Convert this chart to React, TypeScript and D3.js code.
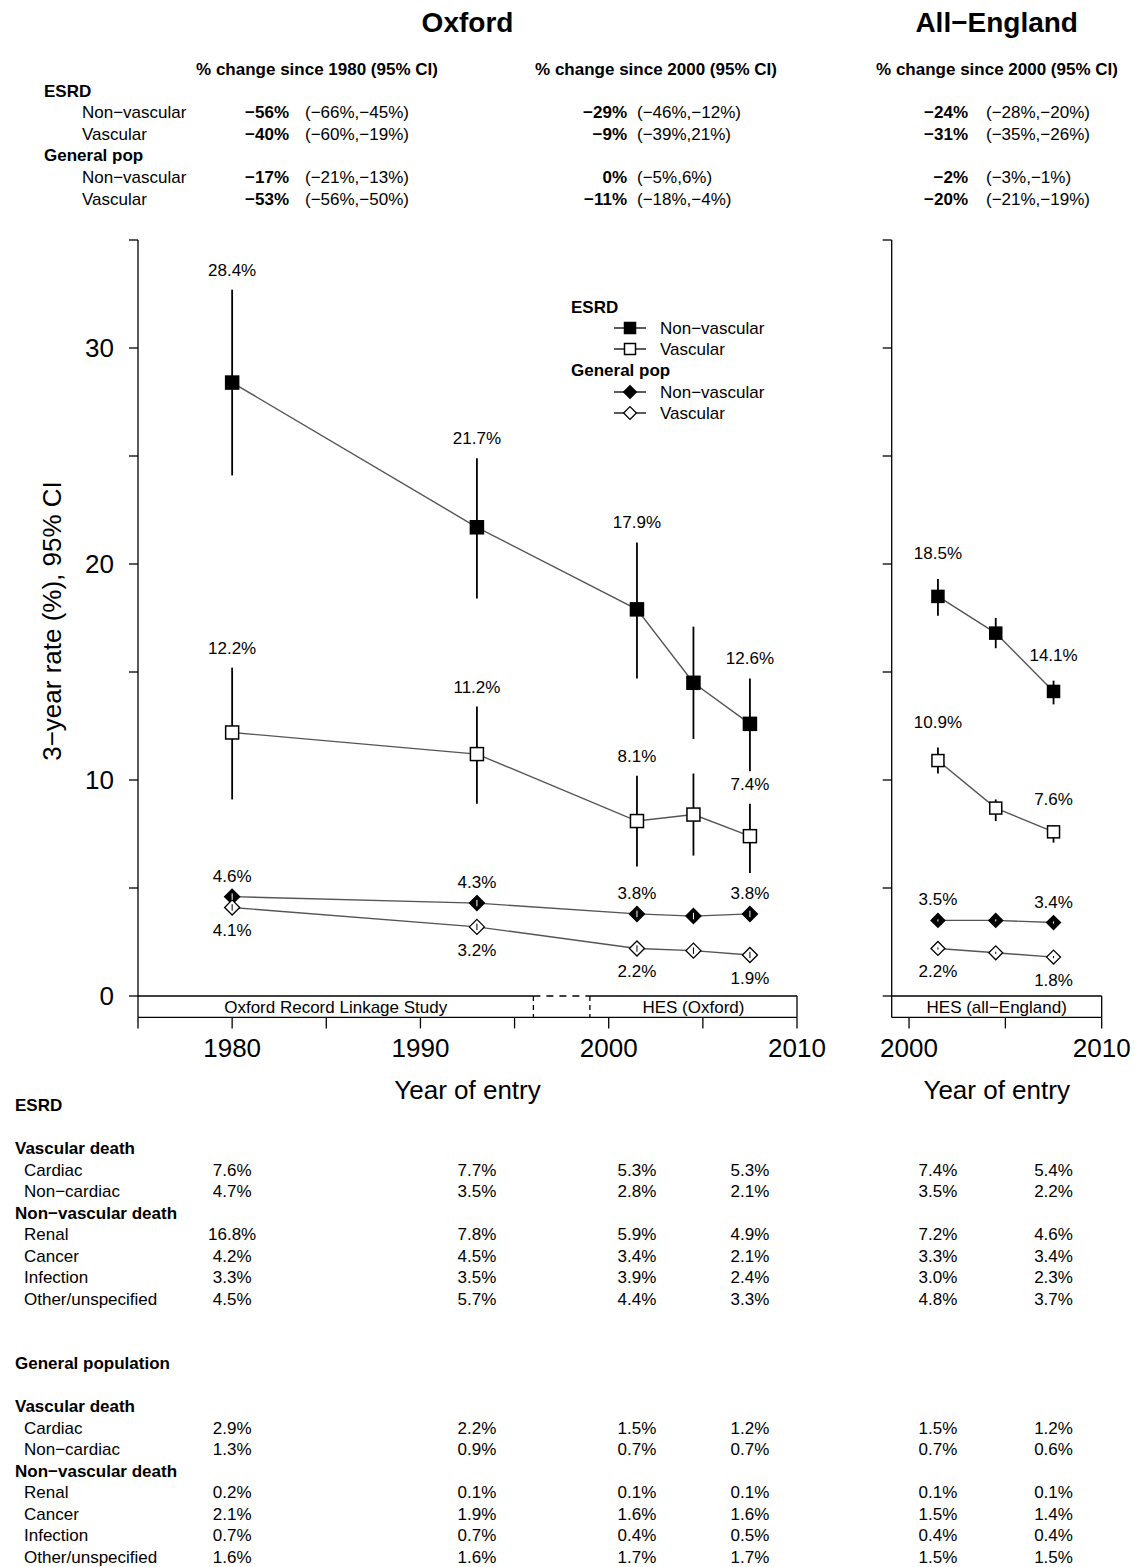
import React from "react";
import * as d3 from "d3";

const FONT = "'Liberation Sans', Arial, Helvetica, sans-serif";

// ---------- data ----------
const oxfordYears = [1980, 1993, 2001.5, 2004.5, 2007.5];
const englandYears = [2001.5, 2004.5, 2007.5];

const oxEsrdNonVasc = [28.4, 21.7, 17.9, 14.5, 12.6];
const oxEsrdNonVascLo = [24.1, 18.4, 14.7, 11.9, 10.4];
const oxEsrdNonVascHi = [32.7, 24.9, 21.0, 17.1, 14.7];
const oxEsrdVasc = [12.2, 11.2, 8.1, 8.4, 7.4];
const oxEsrdVascLo = [9.1, 8.9, 6.0, 6.5, 5.7];
const oxEsrdVascHi = [15.2, 13.4, 10.2, 10.3, 8.9];
const oxGpNonVasc = [4.6, 4.3, 3.8, 3.7, 3.8];
const oxGpNonVascLo = [4.45, 4.15, 3.65, 3.55, 3.65];
const oxGpNonVascHi = [4.75, 4.45, 3.95, 3.85, 3.95];
const oxGpVasc = [4.1, 3.2, 2.2, 2.1, 1.9];
const oxGpVascLo = [3.95, 3.05, 2.05, 1.95, 1.75];
const oxGpVascHi = [4.25, 3.35, 2.35, 2.25, 2.05];

const enEsrdNonVasc = [18.5, 16.8, 14.1];
const enEsrdNonVascLo = [17.6, 16.1, 13.5];
const enEsrdNonVascHi = [19.3, 17.5, 14.6];
const enEsrdVasc = [10.9, 8.7, 7.6];
const enEsrdVascLo = [10.3, 8.1, 7.1];
const enEsrdVascHi = [11.5, 9.1, 7.9];
const enGpNonVasc = [3.5, 3.5, 3.4];
const enGpNonVascLo = [3.45, 3.45, 3.35];
const enGpNonVascHi = [3.55, 3.55, 3.45];
const enGpVasc = [2.2, 2.0, 1.8];
const enGpVascLo = [2.15, 1.95, 1.75];
const enGpVascHi = [2.25, 2.05, 1.85];

const oxLabelIdx = [0, 1, 2, 4];
const enLabelIdx = [0, 2];

const yTicks = [0, 5, 10, 15, 20, 25, 30, 35];
const yTickLabels = [0, 10, 20, 30];
const oxXTicks = [1975, 1980, 1985, 1990, 1995, 2000, 2005, 2010];
const oxXTickLabels = [1980, 1990, 2000, 2010];
const enXTicks = [2000, 2005, 2010];
const enXTickLabels = [2000, 2010];

// change table
const changeGroups = ["ESRD", "General pop"];
const changeRows = ["Non\u2212vascular", "Vascular"];
const chg1980 = ["\u221256%", "\u221240%", "\u221217%", "\u221253%"];
const chg1980CI = ["(\u221266%,\u221245%)", "(\u221260%,\u221219%)", "(\u221221%,\u221213%)", "(\u221256%,\u221250%)"];
const chgOx2000 = ["\u221229%", "\u22129%", "0%", "\u221211%"];
const chgOx2000CI = ["(\u221246%,\u221212%)", "(\u221239%,21%)", "(\u22125%,6%)", "(\u221218%,\u22124%)"];
const chgEn2000 = ["\u221224%", "\u221231%", "\u22122%", "\u221220%"];
const chgEn2000CI = ["(\u221228%,\u221220%)", "(\u221235%,\u221226%)", "(\u22123%,\u22121%)", "(\u221221%,\u221219%)"];

// cause-of-death table: columns = Oxford 1980, 1993, 2001.5, 2007.5, England 2001.5, 2007.5
const causeVascular = ["Cardiac", "Non\u2212cardiac"];
const causeNonVascular = ["Renal", "Cancer", "Infection", "Other/unspecified"];
const esrdCardiac = [7.6, 7.7, 5.3, 5.3, 7.4, 5.4];
const esrdNonCardiac = [4.7, 3.5, 2.8, 2.1, 3.5, 2.2];
const esrdRenal = [16.8, 7.8, 5.9, 4.9, 7.2, 4.6];
const esrdCancer = [4.2, 4.5, 3.4, 2.1, 3.3, 3.4];
const esrdInfection = [3.3, 3.5, 3.9, 2.4, 3.0, 2.3];
const esrdOther = [4.5, 5.7, 4.4, 3.3, 4.8, 3.7];
const gpCardiac = [2.9, 2.2, 1.5, 1.2, 1.5, 1.2];
const gpNonCardiac = [1.3, 0.9, 0.7, 0.7, 0.7, 0.6];
const gpRenal = [0.2, 0.1, 0.1, 0.1, 0.1, 0.1];
const gpCancer = [2.1, 1.9, 1.6, 1.6, 1.5, 1.4];
const gpInfection = [0.7, 0.7, 0.4, 0.5, 0.4, 0.4];
const gpOther = [1.6, 1.6, 1.7, 1.7, 1.5, 1.5];
const tableOxYears = [1980, 1993, 2001.5, 2007.5];
const tableEnYears = [2001.5, 2007.5];

// ---------- scales ----------
const xL = d3.scaleLinear().domain([1975, 2010]).range([138, 797]);
const xR = d3.scaleLinear().domain([1999.1, 2010]).range([891.7, 1101.7]);
const y = d3.scaleLinear().domain([0, 35]).range([996, 240]);
const boxBottom = y(-0.99);

type MType = "sqFill" | "sqOpen" | "diFill" | "diOpen";

function Marker({ t, cx, cy, s }: { t: MType; cx: number; cy: number; s: number }) {
  if (t === "sqFill" || t === "sqOpen") {
    return (
      <rect x={cx - s / 2} y={cy - s / 2} width={s} height={s}
        fill={t === "sqFill" ? "#000" : "#fff"} stroke="#000" strokeWidth={1.5} />
    );
  }
  const h = s * 0.58;
  const w = s * 0.58;
  return (
    <path d={`M${cx},${cy - h}L${cx + w},${cy}L${cx},${cy + h}L${cx - w},${cy}Z`}
      fill={t === "diFill" ? "#000" : "#fff"} stroke="#000" strokeWidth={1.3} />
  );
}

type Series = { v: number[]; lo: number[]; hi: number[]; t: MType; lab: "ci" | "above" | "below" };

function Panel({ xs, years, series, labelIdx, size, ciOff }: {
  xs: d3.ScaleLinear<number, number>; years: number[]; series: Series[]; labelIdx: number[]; size: number; ciOff: number;
}) {
  const line = d3.line<number>().x((_, i) => xs(years[i])).y((d) => y(d));
  return (
    <g>
      {series.map((s, k) => (
        <path key={"l" + k} d={line(s.v) || ""} fill="none" stroke="#555" strokeWidth={1.4} />
      ))}
      {series.map((s, k) =>
        s.t.startsWith("sq") ? s.v.map((_, i) => (
          <line key={"c" + k + i} x1={xs(years[i])} x2={xs(years[i])} y1={y(s.lo[i])} y2={y(s.hi[i])}
            stroke="#000" strokeWidth={1.8} />
        )) : null
      )}
      {series.map((s, k) =>
        s.v.map((d, i) => <Marker key={"m" + k + i} t={s.t} cx={xs(years[i])} cy={y(d)} s={size} />)
      )}
      {series.map((s, k) =>
        s.t.startsWith("di") ? s.v.map((_, i) => (
          <line key={"g" + k + i} x1={xs(years[i])} x2={xs(years[i])} y1={y(s.lo[i])} y2={y(s.hi[i])}
            stroke={s.t === "diFill" ? "#fff" : "#000"} strokeWidth={1} />
        )) : null
      )}
      {series.map((s, k) =>
        labelIdx.map((i) => {
          const cx = xs(years[i]);
          let by = 0;
          if (s.lab === "ci") by = y(s.hi[i]) - ciOff;
          else if (s.lab === "above") by = y(s.v[i]) - 15;
          else by = y(s.v[i]) + 29;
          return (
            <text key={"t" + k + i} x={cx} y={by} textAnchor="middle" fontSize={17}>
              {s.v[i].toFixed(1) + "%"}
            </text>
          );
        })
      )}
    </g>
  );
}

function YAxis({ x }: { x: number }) {
  return (
    <g>
      <line x1={x} x2={x} y1={y(35)} y2={boxBottom} stroke="#000" strokeWidth={1.3} />
      {yTicks.map((t) => (
        <line key={t} x1={x - 9} x2={x} y1={y(t)} y2={y(t)} stroke="#000" strokeWidth={1.3} />
      ))}
    </g>
  );
}

function XAxis({ xs, ticks, labels }: { xs: d3.ScaleLinear<number, number>; ticks: number[]; labels: number[] }) {
  const [r0, r1] = xs.range();
  return (
    <g>
      <line x1={r0} x2={r1} y1={boxBottom} y2={boxBottom} stroke="#000" strokeWidth={1.3} />
      {ticks.map((t) => (
        <line key={t} x1={xs(t)} x2={xs(t)} y1={boxBottom} y2={boxBottom + 11} stroke="#000" strokeWidth={1.3} />
      ))}
      {labels.map((t) => (
        <text key={t} x={xs(t)} y={1057} textAnchor="middle" fontSize={26}>{t}</text>
      ))}
      <text x={(r0 + r1) / 2} y={1099} textAnchor="middle" fontSize={26}>Year of entry</text>
    </g>
  );
}

export default function App() {
  const oxSeries: Series[] = [
    { v: oxEsrdNonVasc, lo: oxEsrdNonVascLo, hi: oxEsrdNonVascHi, t: "sqFill", lab: "ci" },
    { v: oxEsrdVasc, lo: oxEsrdVascLo, hi: oxEsrdVascHi, t: "sqOpen", lab: "ci" },
    { v: oxGpNonVasc, lo: oxGpNonVascLo, hi: oxGpNonVascHi, t: "diFill", lab: "above" },
    { v: oxGpVasc, lo: oxGpVascLo, hi: oxGpVascHi, t: "diOpen", lab: "below" },
  ];
  const enSeries: Series[] = [
    { v: enEsrdNonVasc, lo: enEsrdNonVascLo, hi: enEsrdNonVascHi, t: "sqFill", lab: "ci" },
    { v: enEsrdVasc, lo: enEsrdVascLo, hi: enEsrdVascHi, t: "sqOpen", lab: "ci" },
    { v: enGpNonVasc, lo: enGpNonVascLo, hi: enGpNonVascHi, t: "diFill", lab: "above" },
    { v: enGpVasc, lo: enGpVascLo, hi: enGpVascHi, t: "diOpen", lab: "below" },
  ];

  // header table rows
  const headerRowY = [118, 139.5, 183, 204.5];
  const headerGroupY = [96.5, 161];

  const dash1 = xL(1996);
  const dash2 = xL(1999);

  const legendItems: { label: string; t: MType; yy: number; bold?: boolean }[] = [];
  const legendRowsY = [328, 349, 392, 413];
  const legendTypes: MType[] = ["sqFill", "sqOpen", "diFill", "diOpen"];

  const esrdTable = [esrdCardiac, esrdNonCardiac, esrdRenal, esrdCancer, esrdInfection, esrdOther];
  const gpTable = [gpCardiac, gpNonCardiac, gpRenal, gpCancer, gpInfection, gpOther];
  const colX = [...tableOxYears.map((d) => xL(d)), ...tableEnYears.map((d) => xR(d))];

  const CauseTable = ({ title, top, rows }: { title: string; top: number; rows: number[][] }) => {
    const rowH = 21.5;
    const y0 = top + 43; // "Vascular death"
    const labelYs = [y0 + rowH, y0 + 2 * rowH, y0 + 4 * rowH, y0 + 5 * rowH, y0 + 6 * rowH, y0 + 7 * rowH];
    const names = [...causeVascular, ...causeNonVascular];
    return (
      <g fontSize={17}>
        <text x={15} y={top} fontWeight="bold">{title}</text>
        <text x={15} y={y0} fontWeight="bold">Vascular death</text>
        <text x={15} y={y0 + 3 * rowH} fontWeight="bold">Non{"\u2212"}vascular death</text>
        {names.map((n, i) => (
          <g key={n}>
            <text x={24} y={labelYs[i]}>{n}</text>
            {rows[i].map((v, j) => (
              <text key={j} x={colX[j]} y={labelYs[i]} textAnchor="middle">{v.toFixed(1) + "%"}</text>
            ))}
          </g>
        ))}
      </g>
    );
  };

  return (
    <svg width={1135} height={1567} style={{ position: "absolute", left: 0, top: 0, background: "#fff" }}
      fontFamily={FONT}>
      <rect x={0} y={0} width={1135} height={1567} fill="#fff" />
      {/* titles */}
      <text x={467.5} y={32} textAnchor="middle" fontSize={28} fontWeight="bold">Oxford</text>
      <text x={996.7} y={32} textAnchor="middle" fontSize={28} fontWeight="bold">All{"\u2212"}England</text>

      {/* change table */}
      <g fontSize={17}>
        <text x={317} y={75} textAnchor="middle" fontWeight="bold">% change since 1980 (95% CI)</text>
        <text x={656} y={75} textAnchor="middle" fontWeight="bold">% change since 2000 (95% CI)</text>
        <text x={997} y={75} textAnchor="middle" fontWeight="bold">% change since 2000 (95% CI)</text>
        {changeGroups.map((g, i) => (
          <text key={g} x={44} y={headerGroupY[i]} fontWeight="bold">{g}</text>
        ))}
        {headerRowY.map((yy, i) => (
          <g key={i}>
            <text x={82} y={yy}>{changeRows[i % 2]}</text>
            <text x={289} y={yy} textAnchor="end" fontWeight="bold">{chg1980[i]}</text>
            <text x={305} y={yy}>{chg1980CI[i]}</text>
            <text x={627} y={yy} textAnchor="end" fontWeight="bold">{chgOx2000[i]}</text>
            <text x={637} y={yy}>{chgOx2000CI[i]}</text>
            <text x={968} y={yy} textAnchor="end" fontWeight="bold">{chgEn2000[i]}</text>
            <text x={986} y={yy}>{chgEn2000CI[i]}</text>
          </g>
        ))}
      </g>

      {/* y axis title & labels */}
      <text transform={`translate(61,621) rotate(-90)`} textAnchor="middle" fontSize={26}>
        3{"\u2212"}year rate (%), 95% CI
      </text>
      {yTickLabels.map((t) => (
        <text key={t} x={114} y={y(t) + 9} textAnchor="end" fontSize={26}>{t}</text>
      ))}

      {/* Oxford panel */}
      <YAxis x={xL(1975)} />
      <XAxis xs={xL} ticks={oxXTicks} labels={oxXTickLabels} />
      {/* source box */}
      <g stroke="#000" strokeWidth={1.3} fill="none">
        <line x1={xL(1975)} x2={dash1} y1={y(0)} y2={y(0)} />
        <line x1={dash1} x2={dash2} y1={y(0)} y2={y(0)} strokeDasharray="7,6" />
        <line x1={dash2} x2={xL(2010)} y1={y(0)} y2={y(0)} />
        <line x1={dash1} x2={dash1} y1={y(0)} y2={boxBottom} strokeDasharray="5,4" />
        <line x1={dash2} x2={dash2} y1={y(0)} y2={boxBottom} strokeDasharray="5,4" />
        <line x1={xL(2010)} x2={xL(2010)} y1={y(0)} y2={boxBottom} />
      </g>
      <text x={(xL(1975) + dash1) / 2} y={1013} textAnchor="middle" fontSize={17}>Oxford Record Linkage Study</text>
      <text x={(dash2 + xL(2010)) / 2} y={1013} textAnchor="middle" fontSize={17}>HES (Oxford)</text>
      <Panel xs={xL} years={oxfordYears} series={oxSeries} labelIdx={oxLabelIdx} size={13} ciOff={14} />

      {/* England panel */}
      <YAxis x={xR(1999.1)} />
      <XAxis xs={xR} ticks={enXTicks} labels={enXTickLabels} />
      <g stroke="#000" strokeWidth={1.3} fill="none">
        <line x1={xR(1999.1)} x2={xR(2010)} y1={y(0)} y2={y(0)} />
        <line x1={xR(2010)} x2={xR(2010)} y1={y(0)} y2={boxBottom} />
      </g>
      <text x={(xR(1999.1) + xR(2010)) / 2} y={1013} textAnchor="middle" fontSize={17}>HES (all{"\u2212"}England)</text>
      <Panel xs={xR} years={englandYears} series={enSeries} labelIdx={enLabelIdx} size={12} ciOff={20} />

      {/* legend */}
      <g fontSize={17}>
        <text x={571} y={313} fontWeight="bold">ESRD</text>
        <text x={571} y={376} fontWeight="bold">General pop</text>
        {legendRowsY.map((ly, i) => (
          <g key={i}>
            <line x1={614} x2={646} y1={ly} y2={ly} stroke="#000" strokeWidth={1.3} />
            <Marker t={legendTypes[i]} cx={630} cy={ly} s={11} />
            <text x={660} y={ly + 6}>{changeRows[i % 2]}</text>
          </g>
        ))}
      </g>
      {legendItems.length > 0 ? null : null}

      {/* cause tables */}
      <CauseTable title="ESRD" top={1111} rows={esrdTable} />
      <CauseTable title="General population" top={1369} rows={gpTable} />
    </svg>
  );
}
